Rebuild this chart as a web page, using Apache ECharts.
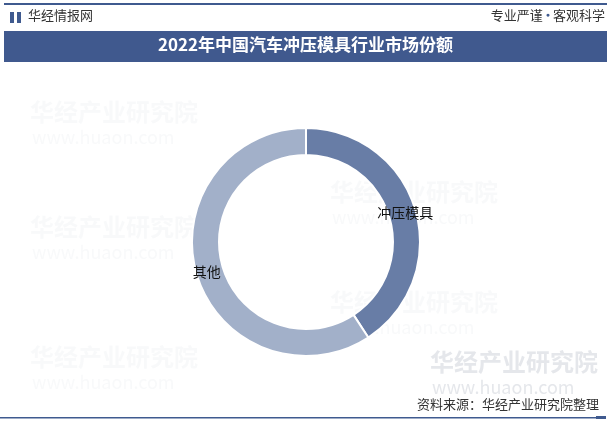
<!DOCTYPE html>
<html><head><meta charset="utf-8">
<script src="https://cdn.jsdelivr.net/npm/echarts@6/dist/echarts.min.js"></script>
<style>html,body{margin:0;padding:0;background:#fff}#c{width:611px;height:424px}</style>
</head><body><div id="c"></div>
<script>
var categories = ['冲压模具', '其他'];
var values = [40.8, 59.2];
var colors = ['#687da6', '#a2b0c9'];
var titleText = '2022年中国汽车冲压模具行业市场份额';
var sourceText = '资料来源：华经产业研究院整理';

var chart = echarts.init(document.getElementById('c'));
var font = '"Noto Sans CJK SC", "Noto Sans", sans-serif';
var wm = [];
var wmPos = [[30,100],[330,180],[30,215],[330,290],[30,345]];
wmPos.forEach(function(p){
  wm.push({type:'text', left:p[0], top:p[1], silent:true, z:0,
    style:{text:'华经产业研究院', font:'bold 24px ' + font, fill:'rgba(200,205,215,0.12)'}});
  wm.push({type:'text', left:p[0]+2, top:p[1]+28, silent:true, z:0,
    style:{text:'www.huaon.com', font:'18px ' + font, fill:'rgba(200,205,215,0.12)'}});
});
wm.push({type:'text', left:430, top:350, silent:true, z:0,
  style:{text:'华经产业研究院', font:'bold 24px ' + font, fill:'rgba(150,160,175,0.25)'}});
wm.push({type:'text', left:432, top:378, silent:true, z:0,
  style:{text:'www.huaon.com', font:'18px ' + font, fill:'rgba(150,160,175,0.25)'}});
chart.setOption({
  animation:false,
  graphic: wm.concat([
    {type:'rect', shape:{x:4,y:3,width:603,height:2}, style:{fill:'#3f5a8f'}},
    {type:'rect', shape:{x:4,y:31,width:603,height:31}, style:{fill:'#40598e'}},
    {type:'rect', shape:{x:10,y:12,width:4,height:11}, style:{fill:'#3f5a8f'}},
    {type:'rect', shape:{x:17,y:12,width:4,height:11}, style:{fill:'#3f5a8f'}},
    {type:'text', left:28, top:9, style:{text:'华经情报网', font:'13px ' + font, fill:'#333'}},
    {type:'text', right:6, top:9, style:{text:'专业严谨{d|●}客观科学', font:'13px ' + font, fill:'#333',
      rich:{d:{fontSize:7, fill:'#3f5a8f', padding:[0,3,0,3], verticalAlign:'middle'}}}},
    {type:'text', left:'center', top:36, style:{text:titleText, font:'bold 17px ' + font, fill:'#fff'}},
    {type:'text', right:12, top:398, style:{text:sourceText, font:'13px ' + font, fill:'#333'}},
    {type:'rect', shape:{x:0,y:417,width:600,height:1.5}, style:{fill:'#3f5a8f'}},
    {type:'rect', shape:{x:596,y:416,width:10,height:3}, style:{fill:'#3f5a8f'}}
  ]),
  series:[{
    type:'pie',
    center:[306,242],
    radius:[87,114],
    startAngle:90,
    clockwise:true,
    itemStyle:{borderColor:'#fff', borderWidth:2},
    label:{show:true, position:'inside', color:'#111', fontSize:14, fontFamily:font, formatter:'{b}'},
    labelLine:{show:false},
    data: categories.map(function(c,i){return {name:c, value:values[i], itemStyle:{color:colors[i]}};})
  }]
});
</script></body></html>
